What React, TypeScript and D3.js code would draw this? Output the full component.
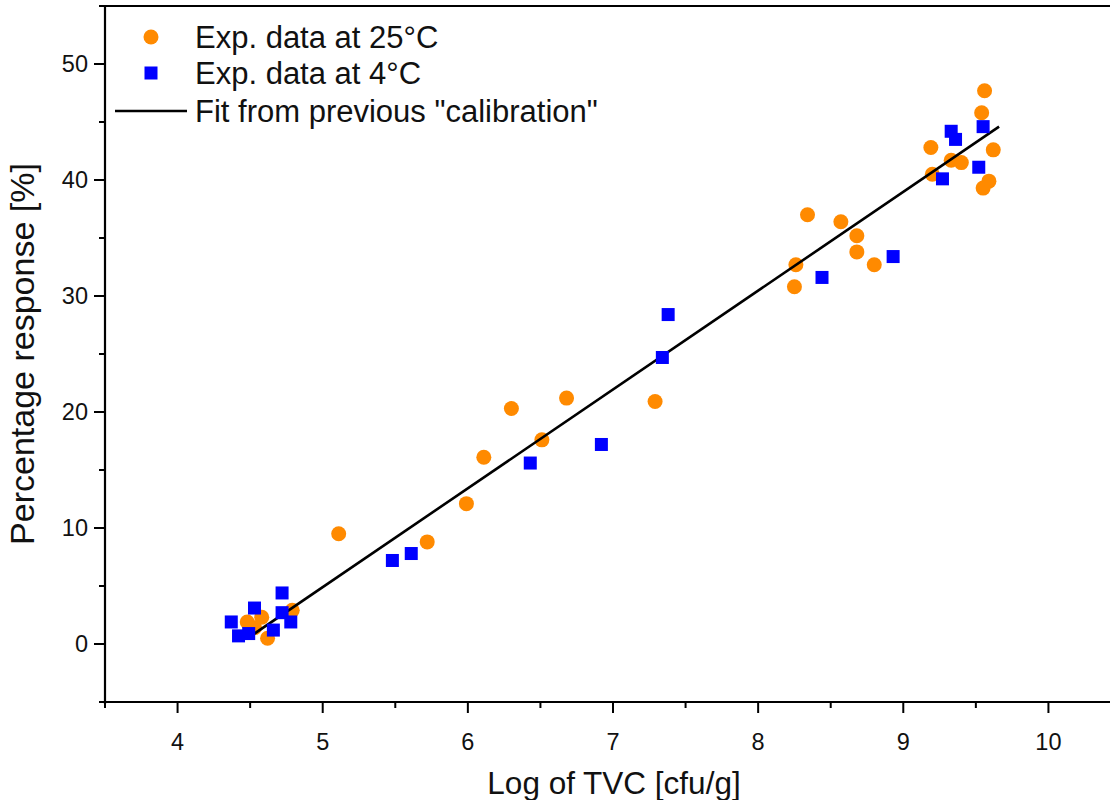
import React, { useEffect, useRef } from 'react';
import * as d3 from 'd3';

// Experimental data at 25°C (log TVC, % response)
const warmX = [4.58, 4.48, 4.53, 4.62, 4.79, 5.11, 5.72, 5.99, 6.11, 6.30, 6.51, 6.68, 7.29,
  8.25, 8.26, 8.34, 8.57, 8.68, 8.68, 8.80, 9.19, 9.20, 9.33, 9.40, 9.54, 9.56, 9.62, 9.59, 9.55];
const warmY = [2.3, 1.9, 1.4, 0.5, 2.9, 9.5, 8.8, 12.1, 16.1, 20.3, 17.6, 21.2, 20.9,
  30.8, 32.7, 37.0, 36.4, 35.2, 33.8, 32.7, 42.8, 40.5, 41.7, 41.5, 45.8, 47.7, 42.6, 39.9, 39.3];

// Experimental data at 4°C
const coldX = [4.37, 4.42, 4.49, 4.53, 4.66, 4.72, 4.72, 4.78, 5.48, 5.61, 6.43, 6.92, 7.38, 7.34,
  8.44, 8.93, 9.27, 9.33, 9.36, 9.52, 9.55];
const coldY = [1.9, 0.7, 0.9, 3.1, 1.2, 4.4, 2.7, 1.9, 7.2, 7.8, 15.6, 17.2, 28.4, 24.7,
  31.6, 33.4, 40.1, 44.2, 43.5, 41.1, 44.6];

// Fit from previous calibration (end points)
const fitX = [4.53, 9.66];
const fitY = [0.9, 44.6];

const xTicks = [4, 5, 6, 7, 8, 9, 10];
const yTicks = [0, 10, 20, 30, 40, 50];

const legendLabels = ['Exp. data at 25°C', 'Exp. data at 4°C', 'Fit from previous "calibration"'];

const FONT = '"Liberation Sans", Arial, sans-serif';
const ORANGE = '#FF8A00';
const BLUE = '#0000FF';

function Chart() {
  const svgRef = useRef<SVGSVGElement | null>(null);

  useEffect(() => {
    if (!svgRef.current) return;
    const svg = d3.select(svgRef.current);
    svg.selectAll('*').remove();

    const width = 1110;
    const height = 800;
    const left = 105;
    const top = 6;
    const bottom = 702;
    const right = 1121;

    const x = d3.scaleLinear().domain([3.5, 10.5]).range([left, right]);
    const y = d3.scaleLinear().domain([-5, 55]).range([bottom, top]);

    svg.attr('width', width).attr('height', height);

    // Frame (top line, right edge runs past the picture)
    svg.append('line')
      .attr('x1', left).attr('x2', right)
      .attr('y1', y(55)).attr('y2', y(55))
      .attr('stroke', '#000').attr('stroke-width', 2);

    // X axis
    const xAxis = svg.append('g')
      .attr('transform', `translate(0, ${bottom})`);
    xAxis.append('line')
      .attr('x1', left - 2).attr('x2', right)
      .attr('stroke', '#000').attr('stroke-width', 2.2);
    d3.range(3.5, 10.51, 0.5).forEach(v => {
      const major = Math.abs(v - Math.round(v)) < 1e-6;
      xAxis.append('line')
        .attr('x1', x(v)).attr('x2', x(v))
        .attr('y1', 0).attr('y2', major ? 11 : 6)
        .attr('stroke', '#000').attr('stroke-width', 2);
    });
    xTicks.forEach(v => {
      xAxis.append('text')
        .attr('x', x(v)).attr('y', 48)
        .attr('text-anchor', 'middle')
        .attr('font-family', FONT).attr('font-size', 23.5)
        .attr('fill', '#111')
        .text(v);
    });

    // Y axis
    const yAxis = svg.append('g')
      .attr('transform', `translate(${left}, 0)`);
    yAxis.append('line')
      .attr('y1', top - 1).attr('y2', bottom + 2)
      .attr('stroke', '#000').attr('stroke-width', 2.2);
    d3.range(-5, 55.1, 5).forEach(v => {
      const major = v % 10 === 0;
      yAxis.append('line')
        .attr('x1', 0).attr('x2', major ? -11 : -6)
        .attr('y1', y(v)).attr('y2', y(v))
        .attr('stroke', '#000').attr('stroke-width', 2);
    });
    yTicks.forEach(v => {
      yAxis.append('text')
        .attr('x', -17).attr('y', y(v))
        .attr('dy', '0.36em')
        .attr('text-anchor', 'end')
        .attr('font-family', FONT).attr('font-size', 23.5)
        .attr('fill', '#111')
        .text(v);
    });

    // Axis titles
    svg.append('text')
      .attr('x', 614).attr('y', 794)
      .attr('text-anchor', 'middle')
      .attr('font-family', FONT).attr('font-size', 31.5)
      .attr('fill', '#111')
      .text('Log of TVC [cfu/g]');
    svg.append('text')
      .attr('transform', `translate(34, 354) rotate(-90)`)
      .attr('text-anchor', 'middle')
      .attr('font-family', FONT).attr('font-size', 34)
      .attr('fill', '#111')
      .text('Percentage response [%]');

    // 25°C points
    svg.append('g').selectAll('circle')
      .data(d3.zip(warmX, warmY))
      .join('circle')
      .attr('cx', d => x(d[0]))
      .attr('cy', d => y(d[1]))
      .attr('r', 7.5)
      .attr('fill', ORANGE);

    // Calibration fit
    const line = d3.line<[number, number]>()
      .x(d => x(d[0]))
      .y(d => y(d[1]));
    svg.append('path')
      .datum(d3.zip(fitX, fitY) as [number, number][])
      .attr('d', line)
      .attr('fill', 'none')
      .attr('stroke', '#000')
      .attr('stroke-width', 2.6);

    // 4°C points
    const sq = 13;
    svg.append('g').selectAll('rect')
      .data(d3.zip(coldX, coldY))
      .join('rect')
      .attr('x', d => x(d[0]) - sq / 2)
      .attr('y', d => y(d[1]) - sq / 2)
      .attr('width', sq)
      .attr('height', sq)
      .attr('fill', BLUE);

    // Legend
    const legend = svg.append('g').attr('transform', 'translate(151, 0)');
    const rowY = [37, 73, 111];
    legend.append('circle').attr('cx', 0).attr('cy', rowY[0]).attr('r', 7.5).attr('fill', ORANGE);
    legend.append('rect')
      .attr('x', -sq / 2).attr('y', rowY[1] - sq / 2)
      .attr('width', sq).attr('height', sq).attr('fill', BLUE);
    legend.append('line')
      .attr('x1', -36).attr('x2', 36)
      .attr('y1', rowY[2]).attr('y2', rowY[2])
      .attr('stroke', '#000').attr('stroke-width', 2.6);
    legendLabels.forEach((label, i) => {
      legend.append('text')
        .attr('x', 44).attr('y', rowY[i])
        .attr('dy', '0.36em')
        .attr('font-family', FONT).attr('font-size', 31)
        .attr('fill', '#111')
        .text(label);
    });
  }, []);

  return (
    <svg ref={svgRef} style={{ position: 'absolute', left: 0, top: 0, background: '#fff' }}></svg>
  );
}

export default function App() {
  return <Chart />;
}
